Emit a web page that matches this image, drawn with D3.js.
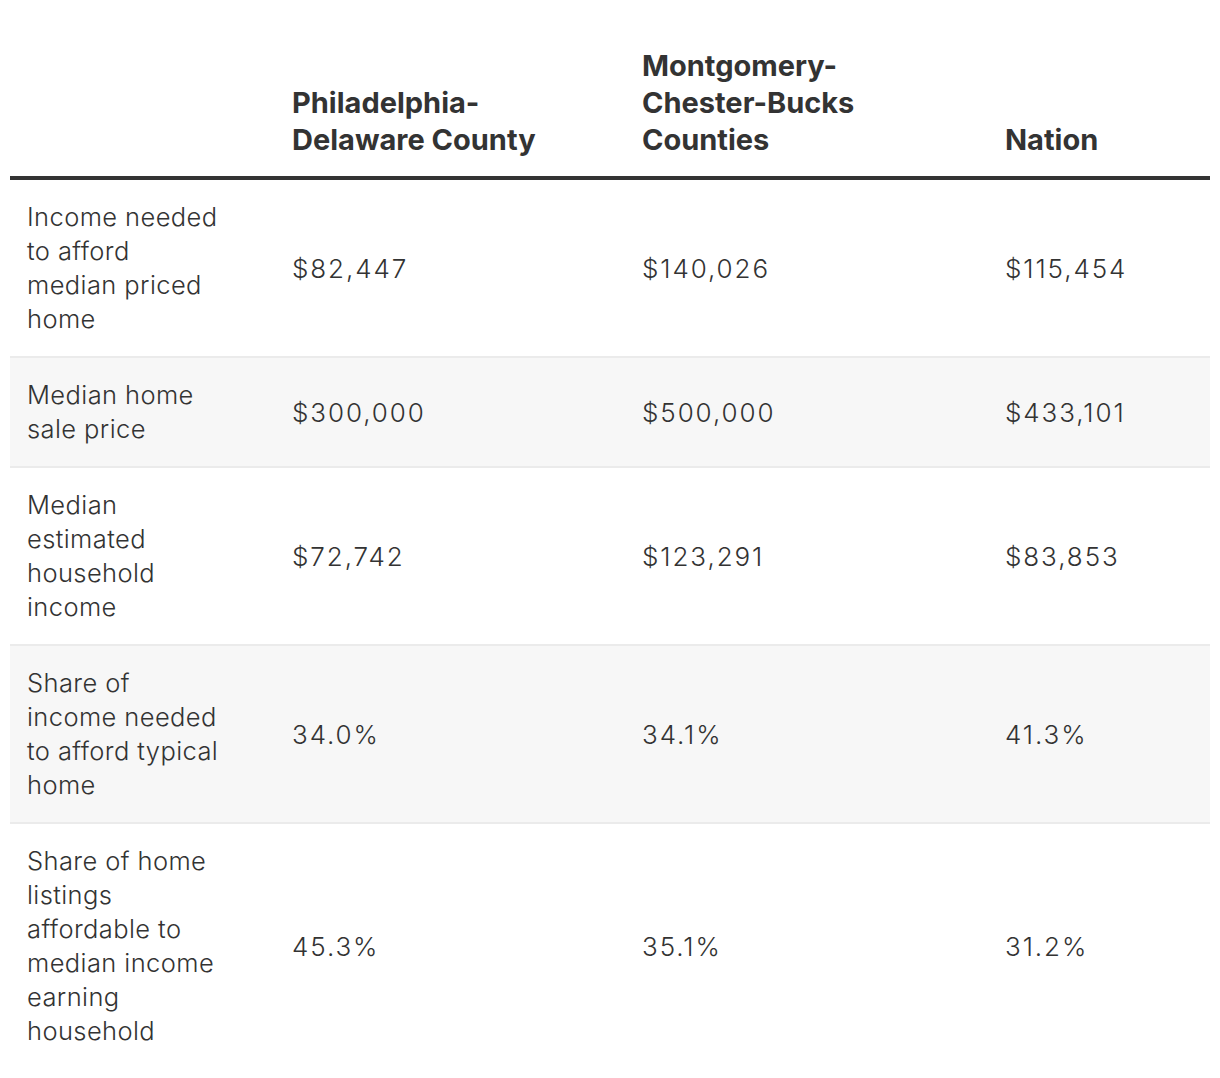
<!DOCTYPE html>
<html>
<head>
<meta charset="utf-8">
<script src="https://cdn.jsdelivr.net/npm/d3@7"></script>
<style>
  html, body { margin: 0; padding: 0; background: #ffffff; }
  svg { display: block; }
</style>
</head>
<body>
<svg id="chart" width="1220" height="1078"></svg>
<script>
// ---- data ----
const columns = ["Philadelphia-Delaware County", "Montgomery-Chester-Bucks Counties", "Nation"];
const columnHeaderLines = [
  ["Philadelphia-", "Delaware County"],
  ["Montgomery-", "Chester-Bucks", "Counties"],
  ["Nation"]
];
const rowLabels = [
  ["Income needed", "to afford", "median priced", "home"],
  ["Median home", "sale price"],
  ["Median", "estimated", "household", "income"],
  ["Share of", "income needed", "to afford typical", "home"],
  ["Share of home", "listings", "affordable to", "median income", "earning", "household"]
];
const philadelphiaValues = ["$82,447", "$300,000", "$72,742", "34.0%", "45.3%"];
const montgomeryValues = ["$140,026", "$500,000", "$123,291", "34.1%", "35.1%"];
const nationValues = ["$115,454", "$433,101", "$83,853", "41.3%", "31.2%"];

// ---- layout ----
const svg = d3.select("#chart");
const left = 10, right = 1210;
const textColor = "#333333";
const bodyFont = "Inter, Roboto, sans-serif";

const colX = d3.scaleOrdinal().domain(["label", ...columns]).range([27, 292, 642, 1005]);

// header
const headerBaseline = 150, headerLineH = 37;
const header = svg.append("g");
columns.forEach((c, i) => {
  const lines = columnHeaderLines[i];
  const t = header.append("text")
    .attr("x", colX(c))
    .attr("font-family", bodyFont)
    .attr("font-weight", 700)
    .attr("font-size", 29)
    .attr("fill", textColor);
  lines.forEach((ln, j) => {
    t.append("tspan")
      .attr("x", colX(c))
      .attr("y", headerBaseline - (lines.length - 1 - j) * headerLineH)
      .text(ln);
  });
});
svg.append("rect").attr("x", left).attr("y", 176).attr("width", right - left).attr("height", 4).attr("fill", textColor);

// rows
const lineH = 34, padTop = 46, padBottom = 28, border = 2;
let y = 180;
const rows = rowLabels.map((lines, i) => {
  const h = padTop + lineH * (lines.length - 1) + padBottom;
  const r = { i, lines, top: y, h };
  y += h + border;
  return r;
});

const g = svg.append("g");
const rowG = g.selectAll("g.row").data(rows).join("g").attr("class", "row");

rowG.append("rect")
  .attr("x", left).attr("y", d => d.top)
  .attr("width", right - left).attr("height", d => d.h)
  .attr("fill", d => d.i % 2 === 1 ? "#f7f7f7" : "#ffffff");

rowG.filter(d => d.i < rows.length - 1).append("rect")
  .attr("x", left).attr("y", d => d.top + d.h)
  .attr("width", right - left).attr("height", border)
  .attr("fill", "#ebebeb");

rowG.each(function(d) {
  const sel = d3.select(this);
  const t = sel.append("text")
    .attr("font-family", bodyFont)
    .attr("font-weight", 300)
    .attr("font-size", 25.5)
    .attr("letter-spacing", 0.4)
    .attr("fill", textColor);
  d.lines.forEach((ln, j) => {
    t.append("tspan").attr("x", colX("label")).attr("y", d.top + padTop + j * lineH).text(ln);
  });
  const vals = [philadelphiaValues[d.i], montgomeryValues[d.i], nationValues[d.i]];
  const cy = d.top + d.h / 2;
  columns.forEach((c, k) => {
    sel.append("text")
      .attr("x", colX(c))
      .attr("y", cy + 9.5)
      .attr("font-family", bodyFont)
      .attr("font-weight", 300)
      .attr("font-size", 26)
      .attr("letter-spacing", 1.9)
      .attr("fill", textColor)
      .text(vals[k]);
  });
});
</script>
</body>
</html>
